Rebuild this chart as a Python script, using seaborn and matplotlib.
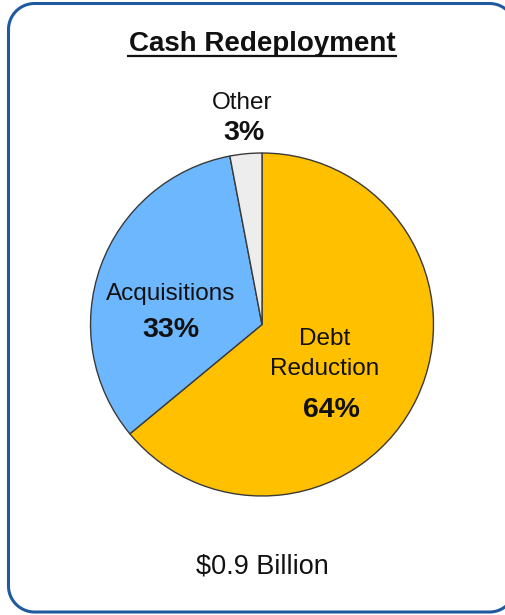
import matplotlib
matplotlib.use("Agg")
import matplotlib.pyplot as plt
import seaborn as sns
import numpy as np

sns.set_theme(style="white")
plt.rcParams["font.family"] = ["Liberation Sans", "DejaVu Sans"]

# Data
categories = ["Debt Reduction", "Acquisitions", "Other"]
shares = [64, 33, 3]
colors = ["#FFC000", "#6DB7FF", "#EDEDED"]
title = "Cash Redeployment"
total_label = "$0.9 Billion"

W, H = 505, 615
fig = plt.figure(figsize=(W / 100, H / 100), dpi=100)
fig.patch.set_facecolor("white")

# Background canvas in pixel units (y grows downward) for the frame and texts
bg = fig.add_axes([0, 0, 1, 1], zorder=0)
bg.set_xlim(0, W)
bg.set_ylim(H, 0)
bg.axis("off")


def rounded_rect(x0, y0, x1, y1, rad, n=24):
    """Closed polyline outlining a rectangle with circular corners."""
    pts = []
    corners = [(x1 - rad, y0 + rad, -90, 0),   # top-right
               (x1 - rad, y1 - rad, 0, 90),    # bottom-right
               (x0 + rad, y1 - rad, 90, 180),  # bottom-left
               (x0 + rad, y0 + rad, 180, 270)] # top-left
    for ccx, ccy, a0, a1 in corners:
        t = np.radians(np.linspace(a0, a1, n))
        pts.append(np.column_stack([ccx + rad * np.cos(t), ccy + rad * np.sin(t)]))
    pts = np.vstack(pts + [pts[0][:1]])
    return pts[:, 0], pts[:, 1]


fx_, fy_ = rounded_rect(8.5, 3.5, 515.5, 612.0, 26)
bg.plot(fx_, fy_, color="#1F5A9F", linewidth=2.2, solid_joinstyle="round",
        clip_on=False)

# Pie axes
cx, cy, r = 262, 324.5, 172
ax = fig.add_axes([(cx - r) / W, 1 - (cy + r) / H, 2 * r / W, 2 * r / H], zorder=1)
ax.patch.set_alpha(0)
wedges, _ = ax.pie(shares, colors=colors, startangle=90, counterclock=False,
                   wedgeprops=dict(edgecolor="#3A3A3A", linewidth=1.0))
ax.set_xlim(-1.003, 1.003)
ax.set_ylim(-1.003, 1.003)
ax.set_aspect("equal")
ax.axis("off")

# Title with underline
bg.text(262, 44, title, ha="center", va="center",
        fontsize=20, fontweight="bold", color="#111111")
bg.plot([127, 397], [56, 56], color="#111111", linewidth=1.6, solid_capstyle="butt")

# Slice labels
label_style = dict(ha="center", va="center", color="#111111")
fig.text(242 / W, 1 - 103 / H, "Other", fontsize=17.5, **label_style)
fig.text(244 / W, 1 - 133 / H, f"{shares[2]}%", fontsize=20.5, fontweight="bold", **label_style)

fig.text(171 / W, 1 - 294 / H, "Acquisitions", fontsize=17.5, zorder=3, **label_style)
fig.text(171 / W, 1 - 330 / H, f"{shares[1]}%", fontsize=20.5, fontweight="bold", zorder=3, **label_style)

fig.text(325 / W, 1 - 339 / H, "Debt", fontsize=17.5, zorder=3, **label_style)
fig.text(325 / W, 1 - 369 / H, "Reduction", fontsize=17.5, zorder=3, **label_style)
fig.text(331 / W, 1 - 410 / H, f"{shares[0]}%", fontsize=20.5, fontweight="bold", zorder=3, **label_style)

bg.text(262, 567, total_label, fontsize=19.5, **label_style)

fig.savefig("out.png", dpi=100, facecolor="white")
